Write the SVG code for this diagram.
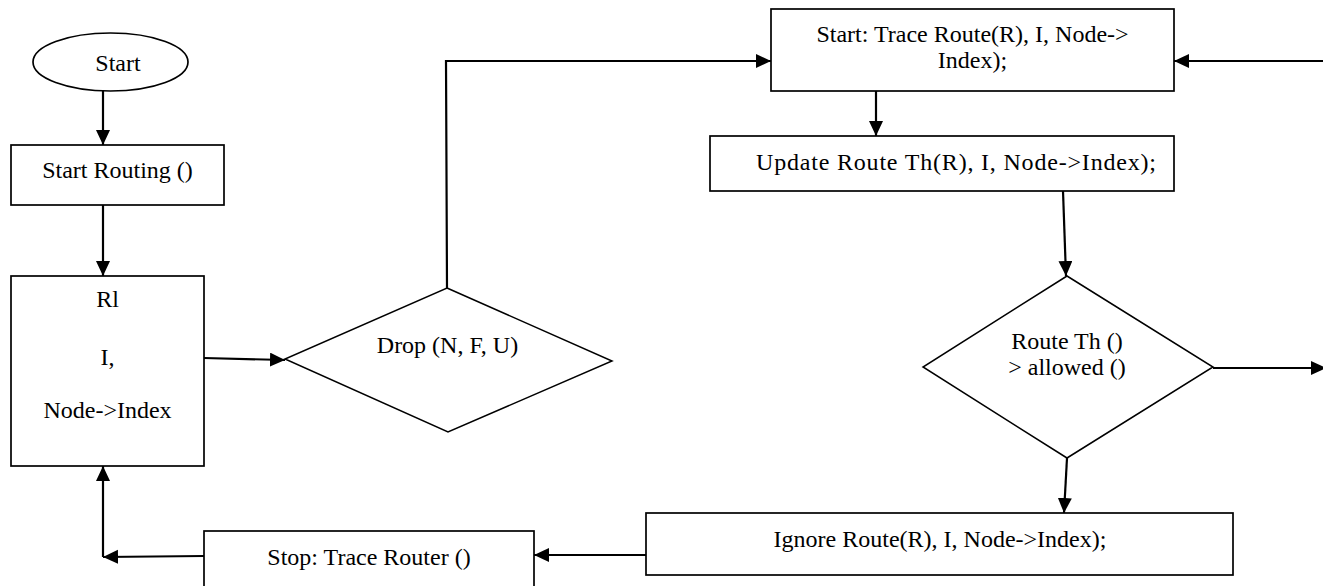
<svg xmlns="http://www.w3.org/2000/svg" width="1323" height="586" viewBox="0 0 1323 586">
  <style>
    .shape { fill: #ffffff; stroke: #000000; stroke-width: 1.7; }
    .diamond { fill: #ffffff; stroke: #000000; stroke-width: 1.5; }
    .link { fill: none; stroke: #000000; stroke-width: 2.2; }
    .arrow { marker-end: url(#head); }
    text { font-family: "Liberation Serif", "Times New Roman", serif; font-size: 24px; fill: #000000; text-anchor: middle; }
  </style>
  <defs>
    <marker id="head" markerUnits="userSpaceOnUse" markerWidth="16" markerHeight="16" refX="15" refY="7" orient="auto">
      <path d="M0,0 L15,7 L0,14 Z" fill="#000000"/>
    </marker>
  </defs>
  <rect width="1323" height="586" fill="#ffffff"/>

  <!-- connectors -->
  <g id="connectors">
    <path class="link arrow" d="M103,91 L103,145"/>
    <path class="link arrow" d="M103,205 L103,276"/>
    <path class="link arrow" d="M204,358 L285,360"/>
    <path class="link arrow" d="M447,288 L446,61 L771,61"/>
    <path class="link arrow" d="M1323,61 L1174,61"/>
    <path class="link arrow" d="M876,91 L876,136"/>
    <path class="link arrow" d="M1063,191 L1066,276"/>
    <path class="link arrow" d="M1213,368 L1326,368"/>
    <path class="link arrow" d="M1067,458 L1064,513"/>
    <path class="link arrow" d="M646,555 L534,555"/>
    <path class="link arrow" d="M204,556 L103,557"/>
    <path class="link arrow" d="M103,557 L103,466"/>
  </g>

  <!-- nodes -->
  <g id="start">
    <ellipse class="shape" cx="110.5" cy="62" rx="77.5" ry="29"/>
    <text x="118" y="71">Start</text>
  </g>
  <g id="start-routing">
    <rect class="shape" x="11" y="145" width="213" height="60"/>
    <text x="117.5" y="178">Start Routing ()</text>
  </g>
  <g id="route-input">
    <rect class="shape" x="11" y="276" width="193" height="190"/>
    <text x="107.5" y="307">Rl</text>
    <text x="107.5" y="365">I,</text>
    <text x="107.5" y="418">Node-&gt;Index</text>
  </g>
  <g id="drop">
    <polygon class="diamond" points="447,288 612,361 448,432 285,359"/>
    <text x="447.5" y="353">Drop (N, F, U)</text>
  </g>
  <g id="start-trace">
    <rect class="shape" x="771" y="9" width="403" height="82"/>
    <text x="972.5" y="42">Start: Trace Route(R), I, Node-&gt;</text>
    <text x="972.5" y="68">Index);</text>
  </g>
  <g id="update-route">
    <rect class="shape" x="710" y="136" width="464" height="55"/>
    <text x="956" y="170" textLength="400" lengthAdjust="spacing">Update Route Th(R), I, Node-&gt;Index);</text>
  </g>
  <g id="threshold-check">
    <polygon class="diamond" points="1067,276 1213,367 1067,458 923,367"/>
    <text x="1067" y="349">Route Th ()</text>
    <text x="1067" y="375">&gt; allowed ()</text>
  </g>
  <g id="ignore-route">
    <rect class="shape" x="646" y="513" width="587" height="62"/>
    <text x="940" y="547">Ignore Route(R), I, Node-&gt;Index);</text>
  </g>
  <g id="stop-trace">
    <rect class="shape" x="204" y="531" width="330" height="70"/>
    <text x="369" y="565">Stop: Trace Router ()</text>
  </g>
</svg>
